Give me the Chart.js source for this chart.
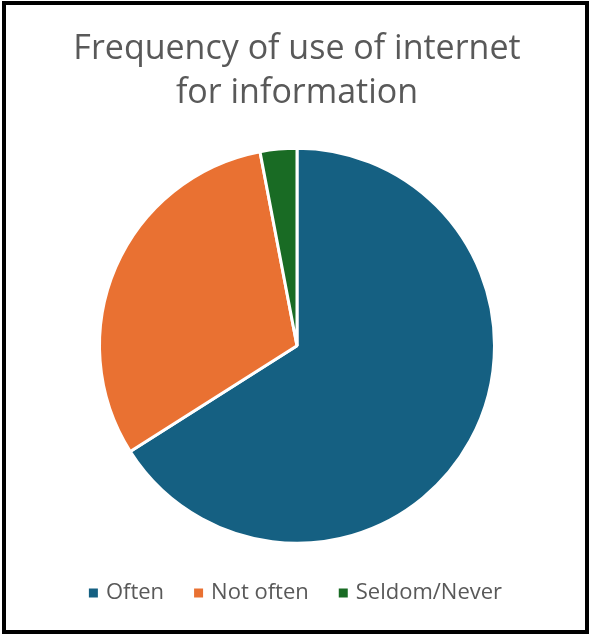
<!DOCTYPE html>
<html>
<head>
<meta charset="utf-8">
<script src="https://cdn.jsdelivr.net/npm/chart.js@4"></script>
<style>
  html, body { margin: 0; padding: 0; background: #fff; }
  #wrap { position: relative; width: 589px; height: 634px; }
  #frame { position: absolute; left: 2px; top: 1px; width: 587px; height: 633px;
           box-sizing: border-box; border: 4px solid #000; pointer-events: none; }
</style>
</head>
<body>
<div id="wrap">
  <canvas id="chart" width="589" height="634"></canvas>
  <div id="frame"></div>
</div>
<script>
const categories = ['Often', 'Not often', 'Seldom/Never']
const shares = [66, 31, 3]
const sliceColors = ['#156082', '#E97132', '#196B24']
const titleLines = ['Frequency of use of internet', 'for information']

const config = {
    type: 'pie',
    data: {
        labels: categories,
        datasets: [{
            data: shares,
            backgroundColor: sliceColors,
            borderColor: '#ffffff',
            borderWidth: 3
        }]
    },
    options: {
        responsive: false,
        animation: false,
        radius: 197.5,
        layout: { padding: { top: 0, bottom: 20, left: 5, right: 0 } },
        plugins: {
            title: {
                display: true,
                text: titleLines,
                color: '#595959',
                font: { family: 'Open Sans', size: 34, weight: 'normal', lineHeight: 1.3 },
                padding: { top: 27, bottom: 27 }
            },
            legend: {
                position: 'bottom',
                labels: {
                    color: '#595959',
                    font: { family: 'Open Sans', size: 22 },
                    usePointStyle: true,
                    pointStyle: 'rect',
                    boxWidth: 3,
                    // white slice border eats 1.5px each side, so 12 -> ~9 visible
                    boxHeight: 12,
                    padding: 33
                }
            },
            tooltip: { enabled: false }
        }
    }
}

new Chart(document.getElementById('chart'), config)
</script>
</body>
</html>
